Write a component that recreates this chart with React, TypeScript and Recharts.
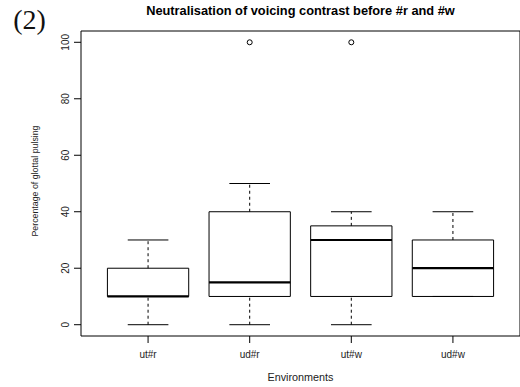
import React from 'react';
import {
  ComposedChart,
  XAxis,
  YAxis,
  Scatter,
  ReferenceArea,
  ReferenceLine,
  Customized,
} from 'recharts';

// Box plot summary per environment
const categories = ['ut#r', 'ud#r', 'ut#w', 'ud#w'];
const whiskerLow = [0, 0, 0, 10];
const lowerQuartile = [10, 10, 10, 10];
const medians = [10, 15, 30, 20];
const upperQuartile = [20, 40, 35, 30];
const whiskerHigh = [30, 50, 40, 40];

// Outliers (category position, value)
const outlierPos = [2, 3];
const outlierVal = [100, 100];

const yTicks = [0, 20, 40, 60, 80, 100];
const xTicks = [1, 2, 3, 4];

const FONT = '"Liberation Sans", Arial, Helvetica, sans-serif';
const BOX_HALF = 0.4;
const CAP_HALF = 0.2;

const outliers = outlierPos.map((p, i) => ({ x: p, y: outlierVal[i] }));

const XTick = ({ x, y, payload }: any) => (
  <text x={x} y={y + 11} textAnchor="middle" dominantBaseline="central" fontFamily={FONT} fontSize={10} fill="#222">
    {categories[payload.value - 1]}
  </text>
);

const YTick = ({ x, y, payload }: any) => {
  const tx = x - 8.5;
  return (
    <text
      x={tx}
      y={y}
      transform={`rotate(-90 ${tx} ${y})`}
      textAnchor="middle"
      dominantBaseline="central"
      fontFamily={FONT}
      fontSize={10}
      fill="#222"
    >
      {payload.value}
    </text>
  );
};

const Titles = () => (
  <g>
    <text x={29.5} y={19} textAnchor="middle" dominantBaseline="central" fontFamily='"Liberation Serif", serif' fontSize={28} fill="#111">
      (2)
    </text>
    <text x={300.5} y={10} textAnchor="middle" dominantBaseline="central" fontFamily={FONT} fontSize={12.8} fontWeight="bold" fill="#000">
      Neutralisation of voicing contrast before #r and #w
    </text>
    <text
      x={35}
      y={181}
      transform="rotate(-90 35 181)"
      textAnchor="middle"
      dominantBaseline="central"
      fontFamily={FONT}
      fontSize={8.8}
      fill="#222"
    >
      Percentage of glottal pulsing
    </text>
    <text x={300.5} y={377} textAnchor="middle" dominantBaseline="central" fontFamily={FONT} fontSize={10.8} fill="#222">
      Environments
    </text>
  </g>
);

const Dot = ({ cx, cy }: any) => <circle cx={cx} cy={cy} r={2.5} fill="none" stroke="#000" strokeWidth={1} />;

export default function App() {
  return (
    <div style={{ position: 'absolute', left: 0, top: 0, background: '#fff' }}>
      <ComposedChart width={520} height={387} margin={{ top: 31, right: 0, bottom: 0, left: 0 }}>
        <XAxis
          type="number"
          dataKey="x"
          domain={[0.34, 4.66]}
          allowDataOverflow
          ticks={xTicks}
          axisLine={false}
          tickLine={{ stroke: '#000' }}
          tickSize={7}
          tickMargin={0}
          height={51}
          tick={<XTick />}
          interval={0}
        />
        <YAxis
          type="number"
          dataKey="y"
          domain={[-4, 104]}
          allowDataOverflow
          ticks={yTicks}
          axisLine={false}
          tickLine={{ stroke: '#000' }}
          tickSize={7}
          tickMargin={0}
          width={81}
          tick={<YTick />}
          interval={0}
        />
        {/* plot frame */}
        <ReferenceArea x1={0.34} x2={4.66} y1={-4} y2={104} fill="none" stroke="#000" strokeWidth={1} ifOverflow="visible" />
        {categories.map((c, i) => {
          const p = i + 1;
          return (
            <React.Fragment key={c}>
              <ReferenceLine
                segment={[{ x: p, y: upperQuartile[i] }, { x: p, y: whiskerHigh[i] }]}
                stroke="#000"
                strokeDasharray="3 3"
              />
              <ReferenceLine
                segment={[{ x: p, y: whiskerLow[i] }, { x: p, y: lowerQuartile[i] }]}
                stroke="#000"
                strokeDasharray="3 3"
              />
              <ReferenceLine segment={[{ x: p - CAP_HALF, y: whiskerHigh[i] }, { x: p + CAP_HALF, y: whiskerHigh[i] }]} stroke="#000" />
              <ReferenceLine segment={[{ x: p - CAP_HALF, y: whiskerLow[i] }, { x: p + CAP_HALF, y: whiskerLow[i] }]} stroke="#000" />
              <ReferenceArea
                x1={p - BOX_HALF}
                x2={p + BOX_HALF}
                y1={lowerQuartile[i]}
                y2={upperQuartile[i]}
                fill="none"
                stroke="#000"
                strokeWidth={1}
              />
              <ReferenceLine
                segment={[{ x: p - BOX_HALF, y: medians[i] }, { x: p + BOX_HALF, y: medians[i] }]}
                stroke="#000"
                strokeWidth={2.2}
              />
            </React.Fragment>
          );
        })}
        <Scatter data={outliers} dataKey="y" shape={<Dot />} isAnimationActive={false} />
        <Customized component={<Titles />} />
      </ComposedChart>
    </div>
  );
}
